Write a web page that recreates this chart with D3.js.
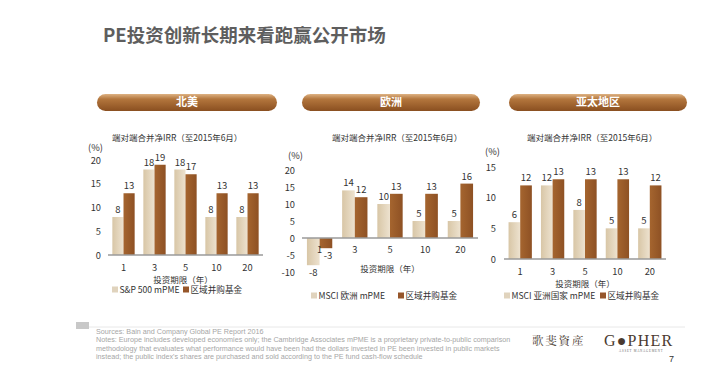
<!DOCTYPE html>
<html>
<head>
<meta charset="utf-8">
<script src="https://cdn.jsdelivr.net/npm/d3@7"></script>
<style>
	body { margin: 0; background: #fff; }
	svg { display: block; font-family: "Noto Sans CJK SC", "Liberation Sans", sans-serif; }
	.tick-label { font-size: 9.3px; fill: #333; }
	.val { font-size: 9.5px; fill: #333; text-anchor: middle; }
	.sub { font-size: 8.5px; fill: #333; }
	.leg { font-size: 8.6px; fill: #333; }
	.note { font-family: "Liberation Sans", Arial, sans-serif; font-size: 7.2px; fill: #a6a6a6; }
</style>
</head>
<body>
<svg id="chart" width="712" height="375"></svg>
<script>
var horizons = ['1', '3', '5', '10', '20'];
var regions = ['北美', '欧洲', '亚太地区'];
var indexNames = ['S&P 500 mPME', 'MSCI 欧洲 mPME', 'MSCI 亚洲国家 mPME'];
var fundName = '区域并购基金';
var naIndex = [8, 18, 18, 8, 8];
var naFund = [13, 19, 17, 13, 13];
var euIndex = [-8, 14, 10, 5, 5];
var euFund = [-3, 12, 13, 13, 16];
var apIndex = [6, 12, 8, 5, 5];
var apFund = [12, 13, 13, 13, 12];
var naTicks = [0, 5, 10, 15, 20];
var euTicks = [-10, -5, 0, 5, 10, 15, 20];
var apTicks = [0, 5, 10, 15];
var subtitle = '端对端合并净IRR（至2015年6月）';
var xTitle = '投资期限（年）';
var notes = [
	'Sources: Bain and Company Global PE Report 2016',
	'Notes: Europe includes developed economies only; the Cambridge Associates mPME is a proprietary private-to-public comparison',
	'methodology that evaluates what performance would have been had the dollars invested in PE been invested in public markets',
	'instead; the public index\'s shares are purchased and sold according to the PE fund cash-flow schedule'
];

var svg = d3.select('#chart');
var defs = svg.append('defs');

var lg = defs.append('linearGradient').attr('id', 'gLight');
lg.append('stop').attr('offset', '0%').attr('stop-color', '#d8c6a6');
lg.append('stop').attr('offset', '100%').attr('stop-color', '#ede2cf');
var dg = defs.append('linearGradient').attr('id', 'gDark');
dg.append('stop').attr('offset', '0%').attr('stop-color', '#a5652f');
dg.append('stop').attr('offset', '100%').attr('stop-color', '#8e5124');
var bg = defs.append('linearGradient').attr('id', 'gBanner').attr('x1', 0).attr('y1', 0).attr('x2', 0).attr('y2', 1);
bg.append('stop').attr('offset', '0%').attr('stop-color', '#deb283');
bg.append('stop').attr('offset', '30%').attr('stop-color', '#b3763d');
bg.append('stop').attr('offset', '100%').attr('stop-color', '#8a4f20');

// title
svg.append('text')
	.attr('x', 103).attr('y', 42)
	.style('font-size', '18.5px').style('font-weight', 'bold').style('fill', '#5e5e5e')
	.text('PE投资创新长期来看跑赢公开市场');

var panels = [
	{ idx: naIndex, fund: naFund, ticks: naTicks, dom: [0, 20], x: [108, 263], y: [255, 160],
		banner: [97, 277], tickX: 101, pctY: 151, pctX: 88, subX: 112, xlabY: 270.5, titleX: 183, titleY: 282.5, legY: 293, legX: [112, 183] },
	{ idx: euIndex, fund: euFund, ticks: euTicks, dom: [-10, 20], x: [302, 478], y: [272, 170],
		banner: [302, 480], tickX: 295, pctY: 159, pctX: 288, subX: 332, xlabY: 253, titleX: 390, titleY: 271.5, legY: 299, legX: [311, 398] },
	{ idx: apIndex, fund: apFund, ticks: apTicks, dom: [0, 15], x: [504, 666], y: [259, 167],
		banner: [509, 687], tickX: 496, pctY: 155, pctX: 485, subX: 527, xlabY: 275, titleX: 585, titleY: 286.5, legY: 299, legX: [504, 600] }
];

panels.forEach(function(p, k){
	var g = svg.append('g');
	var x = d3.scaleBand().domain(horizons).range(p.x);
	var inner = d3.scaleBand().domain([0, 1]).range([0, x.bandwidth()]).paddingOuter(0.39);
	var y = d3.scaleLinear().domain(p.dom).range(p.y);

	// banner
	g.append('rect')
		.attr('x', p.banner[0]).attr('y', 94)
		.attr('width', p.banner[1] - p.banner[0]).attr('height', 17)
		.attr('rx', 8.5)
		.attr('fill', 'url(#gBanner)');
	g.append('text')
		.attr('x', (p.banner[0] + p.banner[1]) / 2).attr('y', 106)
		.attr('text-anchor', 'middle')
		.style('font-size', '11px').style('font-weight', 'bold').style('fill', '#fff')
		.text(regions[k]);

	g.append('text').attr('class', 'sub').attr('x', p.subX).attr('y', 141).text(subtitle);
	g.append('text').attr('class', 'tick-label').attr('x', p.pctX).attr('y', p.pctY).text('(%)');

	g.selectAll('.ytick')
		.data(p.ticks)
		.enter()
		.append('text')
		.attr('class', 'tick-label')
		.attr('text-anchor', 'end')
		.attr('x', p.tickX)
		.attr('y', function(d){ return y(d) + 3.5 })
		.text(function(d){ return d });

	var rows = horizons.map(function(h, i){ return { h: h, v: [p.idx[i], p.fund[i]] } });
	var grp = g.selectAll('.grp')
		.data(rows)
		.enter()
		.append('g')
		.attr('transform', function(d){ return 'translate(' + x(d.h) + ',0)' });
	var bars = grp.selectAll('.bar')
		.data(function(d){ return d.v.map(function(v, j){ return { v: v, j: j } }) })
		.enter();
	bars.append('rect')
		.attr('x', function(d){ return inner(d.j) })
		.attr('width', inner.bandwidth())
		.attr('y', function(d){ return Math.min(y(d.v), y(0)) })
		.attr('height', function(d){ return Math.abs(y(d.v) - y(0)) })
		.attr('fill', function(d){ return d.j ? 'url(#gDark)' : 'url(#gLight)' });
	bars.append('text')
		.attr('class', 'val')
		.attr('x', function(d){ return inner(d.j) + inner.bandwidth() / 2 + (d.v < 0 && d.j ? 2 : 0) })
		.attr('y', function(d){ return d.v < 0 ? y(d.v) + 11 : y(d.v) - 4 })
		.text(function(d){ return d.v });

	g.append('line')
		.attr('x1', p.x[0]).attr('x2', p.x[1])
		.attr('y1', y(0)).attr('y2', y(0))
		.attr('stroke', '#9a9a9a').attr('stroke-width', 1.5);

	g.selectAll('.xtick')
		.data(horizons)
		.enter()
		.append('text')
		.attr('class', 'tick-label')
		.attr('text-anchor', 'middle')
		.attr('x', function(d){ return x(d) + x.bandwidth() / 2 })
		.attr('y', p.xlabY)
		.text(function(d){ return d });

	g.append('text').attr('class', 'sub').attr('text-anchor', 'middle')
		.attr('x', p.titleX).attr('y', p.titleY).text(xTitle);

	// legend
	var names = [indexNames[k], fundName];
	names.forEach(function(n, j){
		g.append('rect').attr('x', p.legX[j]).attr('y', p.legY - 6.5)
			.attr('width', 6).attr('height', 6)
			.attr('fill', j ? '#96562a' : '#e0d3bd');
		g.append('text').attr('class', 'leg')
			.attr('x', p.legX[j] + 7.5).attr('y', p.legY).text(n);
	});
});

// footer
svg.append('rect').attr('x', 76).attr('y', 322).attr('width', 13).attr('height', 7).attr('fill', '#c8c8c8');
svg.append('line').attr('x1', 89).attr('x2', 685).attr('y1', 327).attr('y2', 327)
	.attr('stroke', '#e2e2e2').attr('stroke-width', 0.8);
svg.selectAll('.note')
	.data(notes)
	.enter()
	.append('text')
	.attr('class', 'note')
	.attr('x', 96)
	.attr('y', function(d, i){ return 333.5 + i * 8.6 })
	.text(function(d){ return d });

svg.append('text').attr('x', 532).attr('y', 345)
	.style('font-family', '"Noto Serif CJK SC", "Noto Sans CJK TC", serif').style('font-size', '11.5px')
	.style('fill', '#4a3a30').style('letter-spacing', '1.8px').text('歌斐資產');
svg.append('text').attr('x', 604).attr('y', 345.5)
	.style('font-family', '"Liberation Serif", "DejaVu Serif", serif').style('font-size', '16px')
	.style('fill', '#4a3a30').style('letter-spacing', '1.2px').text('G\u25CFPHER');
svg.append('text').attr('x', 619).attr('y', 351.5)
	.style('font-family', '"Liberation Serif", serif').style('font-size', '3px')
	.style('fill', '#666').style('letter-spacing', '0.8px').text('ASSET MANAGEMENT');
svg.append('text').attr('x', 669).attr('y', 362)
	.style('font-family', '"Liberation Sans", sans-serif').style('font-size', '9px')
	.style('fill', '#333').text('7');
</script>
</body>
</html>
